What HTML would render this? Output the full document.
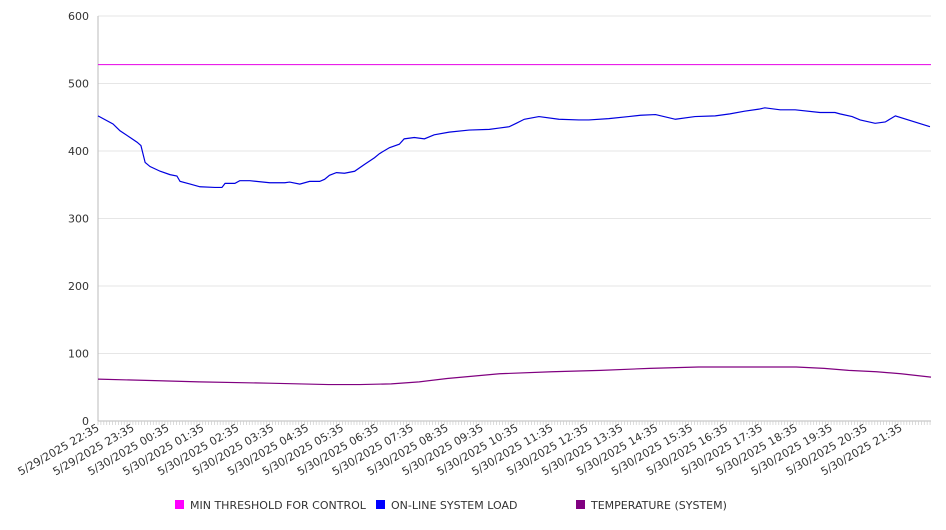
<!DOCTYPE html>
<html><head><meta charset="utf-8"><style>
body{margin:0;background:#fff;font-family:"DejaVu Sans","Liberation Sans",sans-serif;}
svg text{font-family:"DejaVu Sans","Liberation Sans",sans-serif;fill:#333;}
</style></head><body>
<svg id="chart" width="946" height="526" xmlns="http://www.w3.org/2000/svg"></svg>
<script>
const tickLabels=["5/29/2025 22:35","5/29/2025 23:35","5/30/2025 00:35","5/30/2025 01:35","5/30/2025 02:35","5/30/2025 03:35","5/30/2025 04:35","5/30/2025 05:35","5/30/2025 06:35","5/30/2025 07:35","5/30/2025 08:35","5/30/2025 09:35","5/30/2025 10:35","5/30/2025 11:35","5/30/2025 12:35","5/30/2025 13:35","5/30/2025 14:35","5/30/2025 15:35","5/30/2025 16:35","5/30/2025 17:35","5/30/2025 18:35","5/30/2025 19:35","5/30/2025 20:35","5/30/2025 21:35"];
const yTicks=[0,100,200,300,400,500,600];
const loadHours=[0,0.43,0.63,0.92,1.12,1.23,1.35,1.49,1.78,2.06,2.26,2.35,2.64,2.92,3.35,3.55,3.64,3.92,4.06,4.35,4.92,5.35,5.49,5.78,6.06,6.35,6.49,6.63,6.83,7.06,7.35,7.63,7.92,8.06,8.35,8.63,8.77,9.06,9.35,9.63,10.06,10.63,11.21,11.49,11.78,11.98,12.21,12.63,13.2,13.77,14.06,14.63,15.2,15.54,15.97,16.54,17.1,17.68,18.1,18.52,18.93,19.1,19.54,19.97,20.68,21.11,21.25,21.6,21.83,22.26,22.55,22.84,23.83];
const loadValues=[452,440,430,420,413,408,383,377,370,365,363,355,351,347,346,346,352,352,356,356,353,353,354,351,355,355,358,364,368,367,370,380,390,396,405,410,418,420,418,424,428,431,432,434,436,441,447,451,447,446,446,448,451,453,454,447,451,452,455,459,462,464,461,461,457,457,455,451,446,441,443,452,436];
const tempHours=[0,1.5,2.9,4.9,6.6,7.5,8.4,9.2,10,11.5,13,14.4,15.8,17.2,18.6,20,20.8,21.5,22.3,23,23.86];
const tempValues=[62,60,58,56,54,54,55,58,63,70,73,75,78,80,80,80,78,75,73,70,65];
const thresholdValue=528;
const totalHours=23.86;

const svg=document.getElementById('chart');
const NS='http://www.w3.org/2000/svg';
const X0=98,X1=931,Y0=421,Y1=16;
const xs=h=>X0+(X1-X0)*h/totalHours;
const ys=v=>Y0-(Y0-Y1)*v/600;
function mk(tag,attrs){const e=document.createElementNS(NS,tag);for(const k in attrs)e.setAttribute(k,attrs[k]);svg.appendChild(e);return e;}

yTicks.forEach(v=>{
  const g=mk('line',{x1:X0,x2:X1,y1:ys(v),y2:ys(v),stroke:v===0?'#bbb':'#e6e6e6','stroke-width':1});
  
  
  const t=mk('text',{x:89,y:ys(v)+4,'text-anchor':'end','font-size':11});
  t.textContent=v;
  
  
});
const ax=mk('line',{x1:X0,x2:X0,y1:Y1,y2:Y0,stroke:'#bbb'});


for(let i=0;i<=totalHours*12;i++){
  const x=xs(i/12);
  const m=mk('line',{x1:x,x2:x,y1:Y0,y2:Y0+4,stroke:'#ccc','stroke-width':0.7});
  
  
}
tickLabels.forEach((l,i)=>{
  const x=xs(i)+2,y=Y0+9;
  const t=mk('text',{x:x,y:y,'text-anchor':'end','font-size':11,transform:`rotate(-30 ${x} ${y})`});
  t.textContent=l;
  
  
});
const th=mk('line',{x1:X0,x2:X1,y1:ys(thresholdValue),y2:ys(thresholdValue),stroke:'#e600e6','stroke-width':1});


const lp=mk('polyline',{points:loadHours.map((h,i)=>xs(h)+','+ys(loadValues[i])).join(' '),fill:'none',stroke:'#0000e0','stroke-width':1.2});


const tp=mk('polyline',{points:tempHours.map((h,i)=>xs(h)+','+ys(tempValues[i])).join(' '),fill:'none',stroke:'#800080','stroke-width':1.2});


[[175,'#ff00ff','MIN THRESHOLD FOR CONTROL'],[376,'#0000ff','ON-LINE SYSTEM LOAD'],[576,'#800080','TEMPERATURE (SYSTEM)']].forEach(([x,c,l])=>{
  const r=mk('rect',{x:x,y:500,width:9,height:9,fill:c});
  
  
  const t=mk('text',{x:x+15,y:509,'font-size':11});
  t.textContent=l;
  
  
});
</script>
</body></html>
